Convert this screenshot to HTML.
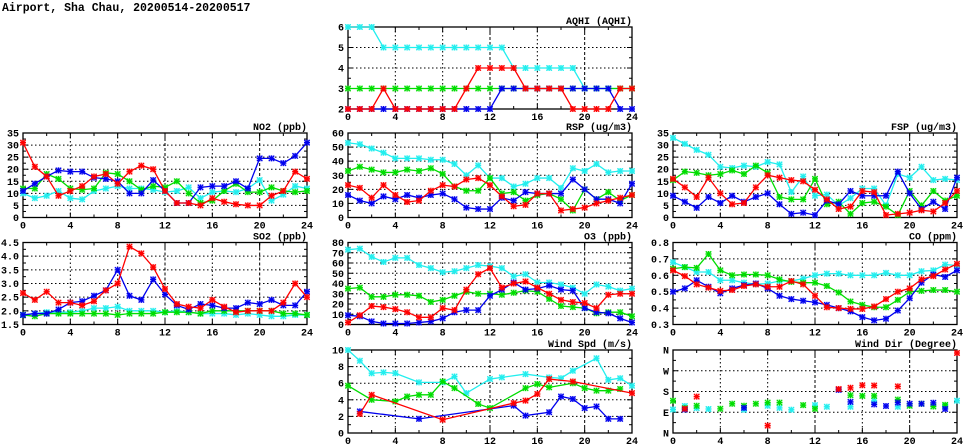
<!DOCTYPE html>
<html><head><meta charset="utf-8"><style>
html,body{margin:0;padding:0;background:#fff;}
svg{display:block;}
text{font-family:"Liberation Mono","DejaVu Sans Mono",monospace;font-weight:bold;fill:#000;}
</style></head><body>
<svg id="s" width="975" height="447" viewBox="0 0 975 447" xmlns="http://www.w3.org/2000/svg">
<text x="2" y="11" font-size="11.5">Airport, Sha Chau, 20200514-20200517</text>
</svg>
<script>
const S=document.getElementById('s');const NS='http://www.w3.org/2000/svg';
function el(t,a,txt){const e=document.createElementNS(NS,t);for(const k in a)e.setAttribute(k,a[k]);if(txt!==undefined)e.textContent=txt;S.appendChild(e);return e;}
const C={c:'#22eeee',g:'#00dd00',r:'#ff0000',b:'#0000ee'};
function seq(a){return a.map((v,i)=>v===null?null:[i,v]);}
function panel(p){
 const {x0,x1,y0,y1,ymin,ymax,ticks,labels,title,series,lines,order}=p;
 const X=h=>x0+(x1-x0)*h/24, Y=v=>y1-(y1-y0)*(v-ymin)/(ymax-ymin);
 ticks.forEach(t=>{if(t>ymin&&t<ymax)el('line',{x1:x0,x2:x1,y1:Y(t),y2:Y(t),stroke:'#000','stroke-width':1,'stroke-dasharray':'1.5,2.5'});});
 [4,8,12,16,20].forEach(h=>el('line',{x1:X(h),x2:X(h),y1:y0,y2:y1,stroke:'#000','stroke-width':1,'stroke-dasharray':h==12||h==20?'3,2':'1.5,2.5'}));
 for(let h=0;h<=24;h+=2){const L=h%4==0?5:3;el('line',{x1:X(h),x2:X(h),y1:y1,y2:y1-L,stroke:'#000'});el('line',{x1:X(h),x2:X(h),y1:y0,y2:y0+L,stroke:'#000'});}
 const mt=[];for(let i=0;i<ticks.length;i++){mt.push([ticks[i],5]);if(i<ticks.length-1)mt.push([(ticks[i]+ticks[i+1])/2,3]);}
 mt.forEach(([t,L])=>{el('line',{x1:x0,x2:x0+L,y1:Y(t),y2:Y(t),stroke:'#000'});el('line',{x1:x1,x2:x1-L,y1:Y(t),y2:Y(t),stroke:'#000'});});
 el('rect',{x:x0,y:y0,width:x1-x0,height:y1-y0,fill:'none',stroke:'#000','stroke-width':1.3});
 ticks.forEach((t,i)=>el('text',{x:x0-4,y:Y(t)+3.5,'font-size':10,'text-anchor':'end'},labels[i]));
 for(let h=0;h<=24;h+=4)el('text',{x:X(h),y:y1+11,'font-size':10,'text-anchor':'middle'},String(h));
 el('text',{x:x1,y:y0-3,'font-size':10,'text-anchor':'end'},title);
 (order||['c','g','b','r']).forEach(k=>{const pts=(series[k]||[]).filter(q=>q!==null);const col=C[k];
  if(lines!==false&&pts.length>1)el('polyline',{points:pts.map(q=>X(q[0])+','+Y(q[1])).join(' '),fill:'none',stroke:col,'stroke-width':1.3});
  pts.forEach(q=>{const x=X(q[0]),y=Y(q[1]);if(x<x0-1||x>x1+1||y<y0-1||y>y1+1)return;
   el('rect',{x:x-3,y:y-3,width:6,height:6,fill:col,opacity:0.25});
   el('path',{d:`M${x-2.7},${y-2.7}L${x+2.7},${y+2.7}M${x-2.7},${y+2.7}L${x+2.7},${y-2.7}M${x-3},${y}H${x+3}M${x},${y-3}V${y+3}`,stroke:col,'stroke-width':1.2,fill:'none'});});
 });
}
const L=[23,307],M=[348,632],R=[673,957];
const R1=[27,109],R2=[133,217.5],R3=[242.5,324.5],R4=[350,433];
const rng=(a,b,s)=>{const r=[];for(let v=a;v<=b+1e-9;v+=s)r.push(+v.toFixed(3));return r;};
panel({x0:M[0],x1:M[1],y0:R1[0],y1:R1[1],ymin:2,ymax:6,ticks:[2,3,4,5,6],labels:['2','3','4','5','6'],title:'AQHI (AQHI)',order:['c','g','b','r'],series:{
 c:seq([6,6,6,5,5,5,5,5,5,5,5,5,5,5,4,4,4,4,4,4,3,3,3,3,3]),
 g:seq([3,3,3,3,3,3,3,3,3,3,3,3,3,3,3,3,3,3,3,3,3,3,3,3,3]),
 r:seq([2,2,2,3,2,2,2,2,2,2,3,4,4,4,4,3,3,3,3,2,2,2,2,3,3]),
 b:seq([2,2,2,2,2,2,2,2,2,2,2,2,2,3,3,3,3,3,3,3,3,3,3,2,2])}});
panel({x0:L[0],x1:L[1],y0:R2[0],y1:R2[1],ymin:0,ymax:35,ticks:rng(0,35,5),labels:rng(0,35,5).map(String),title:'NO2 (ppb)',series:{
 c:seq([10,8,9,11,8,7.5,11,12,13,12,12,11.5,10.5,11,12.5,8,10.5,11,10.5,12,15.5,7,9.5,13,12]),
 g:seq([12,12,18,16,12,11.5,12,18.5,18,15,11.5,13,12.5,15,10,6,7,11,14,10.5,10.5,12.5,11,10.5,11]),
 r:seq([31,21,17,9,11,13,17,18,14,19,21.5,20,11,6,6,5,8,6.5,5.5,5,5,9,11,19,16]),
 b:seq([11,14,17,19.5,19,19,16.5,16,15,10,10,15.5,11,6,6,12.5,13,13,15,12,24.5,24.5,22.5,25.5,31])}});
panel({x0:M[0],x1:M[1],y0:R2[0],y1:R2[1],ymin:0,ymax:60,ticks:rng(0,60,10),labels:rng(0,60,10).map(String),title:'RSP (ug/m3)',series:{
 c:seq([53,52,49,46,42,42,42,41,41,38,30,37,28,28,22,24,28,28,21,35,33,38,32,33,33]),
 g:seq([33,36,34,32,32,34,33,35,31,22,19,19,28,17,18,12,16,17,13,5,20,13,18,12,16]),
 r:seq([23,21,14,23,16,11,12,19,23,22,27,28,23,15,8,9,17,17,5,6,7,10,12,14,16]),
 b:seq([16,12,10,15,13,16,14,16,17,13,7,6,6,14,12,18,17,17,17,27,20,13,13,10,24])}});
panel({x0:R[0],x1:R[1],y0:R2[0],y1:R2[1],ymin:0,ymax:35,ticks:rng(0,35,5),labels:rng(0,35,5).map(String),title:'FSP (ug/m3)',series:{
 c:seq([33,30.5,28,26,21,20.5,21.5,21,23,22,10.5,17,9,9.5,5,8,12,12,5,18,16.5,21,15.5,16,15.5]),
 g:seq([15.5,19,18.5,17.5,18,19.5,18,21.5,18.5,8.5,7.5,7.5,16,5.5,6.5,1.5,6,6.5,4.5,1,11,5,11,7,9]),
 r:seq([16,12.5,8.5,16.5,10,5.5,6,12.5,17.5,16.5,15.5,15,11.5,7.5,3.5,4.5,11,10.5,1,1.5,2,3,2.5,6,11]),
 b:seq([9,6.5,4,8.5,6,9,6.5,8.5,10,5.5,1.5,2,1,7,5.5,11,9,9,9,19,10,3.5,6.5,3.5,16.5])}});
panel({x0:L[0],x1:L[1],y0:R3[0],y1:R3[1],ymin:1.5,ymax:4.5,ticks:rng(1.5,4.5,0.5),labels:rng(1.5,4.5,0.5).map(v=>v.toFixed(1)),title:'SO2 (ppb)',series:{
 c:seq([1.85,1.9,1.95,1.95,1.95,2.0,2.1,2.1,2.15,2.0,2.0,2.0,1.95,2.0,1.95,1.9,1.9,1.9,1.85,1.9,1.85,1.8,1.8,1.85,1.85]),
 g:seq([1.85,1.8,1.9,1.9,1.9,1.9,1.9,1.9,1.85,1.9,1.9,1.9,1.95,1.95,1.95,1.9,2.0,2.0,2.0,2.0,2.0,2.0,1.9,1.9,1.85]),
 r:seq([2.65,2.4,2.7,2.3,2.3,2.2,2.35,2.75,3.0,4.35,4.1,3.6,2.8,2.25,2.15,2.1,2.4,2.15,1.95,2.0,2.0,2.0,2.3,3.0,2.5]),
 b:seq([1.85,1.9,1.9,2.05,2.3,2.35,2.55,2.75,3.5,2.55,2.4,3.15,2.6,2.2,2.05,2.25,2.2,2.1,2.1,2.3,2.25,2.4,2.2,2.2,2.7])}});
panel({x0:M[0],x1:M[1],y0:R3[0],y1:R3[1],ymin:0,ymax:80,ticks:rng(0,80,10),labels:rng(0,80,10).map(String),title:'O3 (ppb)',series:{
 c:seq([73,74,66,61,65,65,58,55,51,52,55,58,57,55,47,49,41,41,39,36,30,39,37,33,35]),
 g:seq([35,36,27,27,29,29,28,22,24,28,32,30,30,29,31,33,32,25,18,17,16,11,12,12,8]),
 r:seq([2,9,18,17,15,12,7,7,16,14,34,49,55,36,40,42,36,30,24,22,21,16,29,30,30]),
 b:seq([9,8,3,1,1,1,2,3,6,12,14,14,28,34,41,34,35,38,34,33,16,12,11,6,2])}});
panel({x0:R[0],x1:R[1],y0:R3[0],y1:R3[1],ymin:0.3,ymax:0.8,ticks:rng(0.3,0.8,0.1),labels:rng(0.3,0.8,0.1).map(v=>v.toFixed(1)),title:'CO (ppm)',series:{
 c:seq([0.68,0.65,0.62,0.62,0.57,0.57,0.555,0.545,0.55,0.565,0.565,0.58,0.6,0.61,0.61,0.6,0.6,0.6,0.615,0.6,0.6,0.625,0.63,0.665,0.66]),
 g:seq([0.64,0.65,0.645,0.73,0.63,0.6,0.605,0.605,0.6,0.575,0.56,0.555,0.555,0.535,0.495,0.44,0.42,0.405,0.405,0.45,0.5,0.505,0.51,0.51,0.5]),
 r:seq([0.63,0.595,0.545,0.525,0.505,0.51,0.535,0.545,0.53,0.53,0.565,0.545,0.475,0.405,0.4,0.395,0.395,0.41,0.455,0.5,0.52,0.575,0.595,0.635,0.67]),
 b:seq([0.5,0.52,0.57,0.53,0.49,0.52,0.54,0.55,0.52,0.475,0.455,0.445,0.435,0.42,0.4,0.38,0.345,0.325,0.335,0.385,0.46,0.555,0.605,0.59,0.63])}});
panel({x0:M[0],x1:M[1],y0:R4[0],y1:R4[1],ymin:0,ymax:10,ticks:rng(0,10,2),labels:rng(0,10,2).map(String),title:'Wind Spd (m/s)',series:{
 c:[[0,10],[1,8.7],[2,7.2],[3,7.3],[4,7.2],[6,6.1],[8,6.1],[9,6.8],[10,4.8],[12,6.5],[13,6.7],[15,7.1],[17,6.7],[18,6.6],[19,7.5],[21,9.0],[22,6.4],[23,6.6],[24,5.7]],
 g:[[0,5.7],[2,4.0],[4,3.8],[5,4.4],[6,4.6],[7,4.6],[8,6.2],[9,5.4],[11,3.5],[12,3.0],[15,5.4],[16,5.9],[17,5.5],[19,6.0],[20,5.4],[21,5.1],[22,5.1],[23,5.3]],
 r:[[1,2.3],[2,4.6],[8,1.6],[14,3.6],[15,3.9],[16,4.7],[17,6.5],[19,6.2],[24,4.8]],
 b:[[1,2.6],[6,1.7],[14,3.3],[15,2.1],[17,2.5],[18,4.4],[19,4.1],[20,3.0],[21,3.2],[22,1.7],[23,1.7]]}});
panel({x0:R[0],x1:R[1],y0:R4[0],y1:R4[1],ymin:0,ymax:360,ticks:[0,90,180,270,360],labels:['N','E','S','W','N'],title:'Wind Dir (Degree)',lines:false,series:{
 c:[[0,102],[1,117],[2,108],[3,104],[6,101],[8,118],[9,109],[10,101],[12,121],[13,114],[15,114],[17,140],[19,114],[23,117],[24,140]],
 g:[[0,140],[1,108],[2,118],[4,105],[5,127],[6,118],[7,127],[8,132],[9,132],[11,121],[12,105],[15,164],[16,161],[17,161],[19,145],[20,118],[21,127],[22,115],[23,122]],
 r:[[1,105],[2,158],[8,32],[14,191],[15,196],[16,207],[17,206],[19,202],[24,347]],
 b:[[1,102],[6,109],[14,187],[15,135],[17,124],[18,117],[19,132],[20,127],[21,127],[22,131],[23,104]]}});
</script>
</body></html>
